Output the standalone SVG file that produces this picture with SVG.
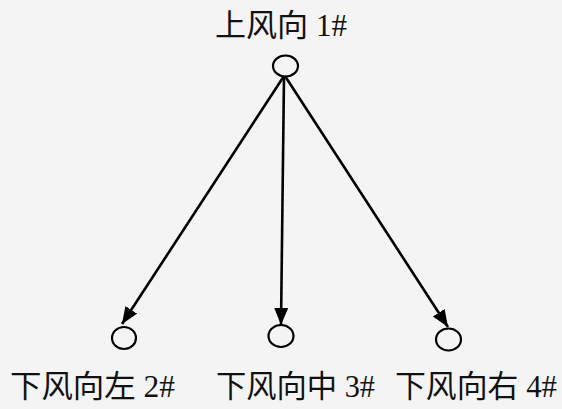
<svg xmlns="http://www.w3.org/2000/svg" width="562" height="409" viewBox="0 0 562 409">
<style>
.lbl{font-family:"Liberation Serif","Noto Sans CJK SC",serif;font-size:31px;fill:#111}
.node{fill:none;stroke:#000;stroke-width:2.2}
.edge{stroke:#000;stroke-width:2.6;fill:none}
</style>
<defs>
<marker id="ah" markerUnits="userSpaceOnUse" markerWidth="18" markerHeight="16" refX="17" refY="7" orient="auto">
<path d="M0,0 L17,7 L0,14 Z" fill="#000"/>
</marker>
</defs>
<rect width="562" height="409" fill="#f4f4f4"/>
<g id="connectors">
<line class="edge" x1="284" y1="76" x2="122" y2="324" marker-end="url(#ah)"/>
<line class="edge" x1="284" y1="76" x2="281" y2="325" marker-end="url(#ah)"/>
<line class="edge" x1="285" y1="76" x2="448" y2="327" marker-end="url(#ah)"/>
</g>
<g id="n1">
<ellipse class="node" cx="285.5" cy="66" rx="12.5" ry="10.5"/>
<text class="lbl" x="215" y="36" textLength="132" lengthAdjust="spacingAndGlyphs">上风向 1#</text>
</g>
<g id="n2">
<ellipse class="node" cx="124" cy="338" rx="12" ry="11"/>
<text class="lbl" x="10" y="397" textLength="165" lengthAdjust="spacingAndGlyphs">下风向左 2#</text>
</g>
<g id="n3">
<ellipse class="node" cx="281" cy="336" rx="12.5" ry="11"/>
<text class="lbl" x="216" y="397" textLength="159" lengthAdjust="spacingAndGlyphs">下风向中 3#</text>
</g>
<g id="n4">
<ellipse class="node" cx="448.5" cy="339.5" rx="12.5" ry="11"/>
<text class="lbl" x="395" y="397" textLength="162" lengthAdjust="spacingAndGlyphs">下风向右 4#</text>
</g>
</svg>
